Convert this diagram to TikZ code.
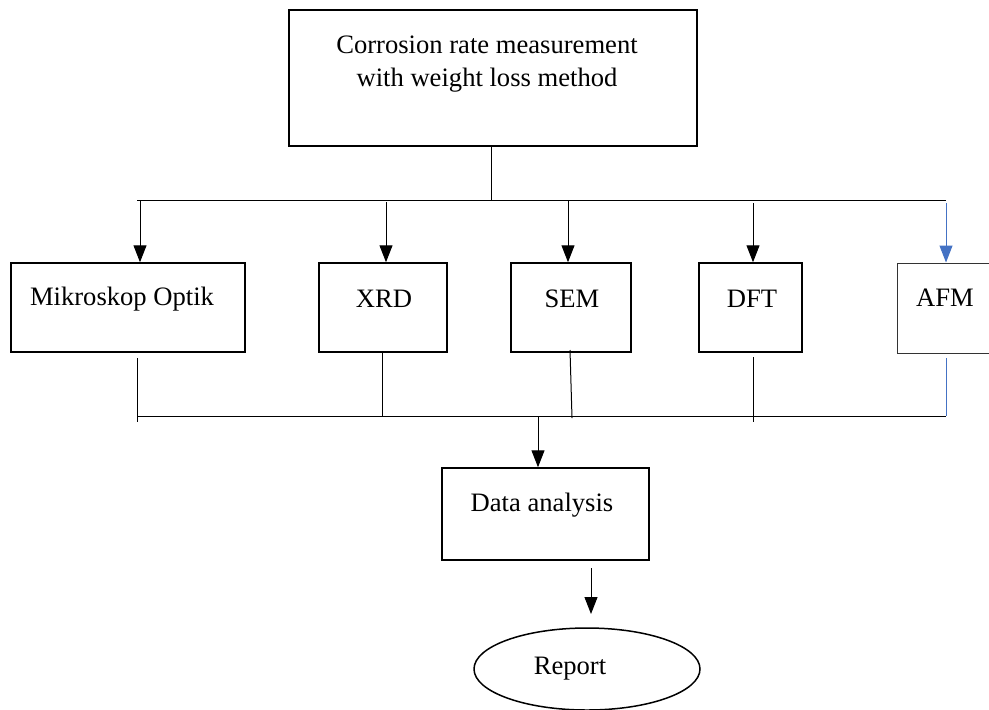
\documentclass[tikz,border=0pt]{standalone}
\usepackage{fontspec}
\setmainfont{Liberation Serif}
\usetikzlibrary{arrows.meta,shapes.geometric}
\definecolor{wordblue}{RGB}{68,114,196}
\begin{document}
\begin{tikzpicture}[x=0.5pt,y=-0.5pt,
  box/.style={draw,line width=0.75pt,minimum width=#1,inner sep=0pt},
  lbl/.style={font=\fontsize{13.3}{16.5}\selectfont,align=center,inner sep=0pt},
  ln/.style={line width=0.5pt},
  arr/.style={line width=0.5pt,-{Triangle[width=6.5pt,length=8.5pt]}}]
\useasboundingbox (0,0) rectangle (989,709);
% boxes
\node[box=204pt,minimum height=68pt] (top) at (493,78) {};
\node[box=117pt,minimum height=44.5pt] (mo) at (128,307.5) {};
\node[box=64pt,minimum height=44.5pt] (xrd) at (383,307.5) {};
\node[box=60pt,minimum height=44.5pt] (sem) at (571,307.5) {};
\node[box=51.5pt,minimum height=44.5pt] (dft) at (750.5,307.5) {};
\node[draw=black!80,line width=0.5pt,minimum width=46.5pt,minimum height=45pt,inner sep=0pt] (afm) at (943.5,308) {};
\node[box=103.5pt,minimum height=46pt] (data) at (545.5,514) {};
\node[draw,ellipse,line width=0.75pt,minimum width=113pt,minimum height=41pt,inner sep=0pt] (rep) at (587,669) {};
% labels
\node[lbl] (ttop) at (487,64) {Corrosion rate measurement\\ with weight loss method};
\node[lbl] (tmo) at (122,299) {Mikroskop Optik};
\node[lbl] (txrd) at (384,299) {XRD};
\node[lbl] (tsem) at (572,299) {SEM};
\node[lbl] (tdft) at (752,299) {DFT};
\node[lbl] (tafm) at (945,298) {AFM};
\node[lbl] (tdata) at (542,505) {Data analysis};
\node[lbl] (trep) at (570,669) {Report};
% coordinates
\coordinate (h1) at (491,200);
\coordinate (hl) at (137,200);
\coordinate (hr) at (946,200);
\coordinate (a1) at (140,201);
\coordinate (a2) at (386,202);
\coordinate (a3) at (568,200);
\coordinate (a4) at (753,203);
\coordinate (a5) at (946,203);
\coordinate (b1s) at (137,358);
\coordinate (b1e) at (137,422);
\coordinate (b2e) at (382,416);
\coordinate (b3s) at (570,350);
\coordinate (b3e) at (572,418);
\coordinate (b4s) at (753,357);
\coordinate (b4e) at (753,422);
\coordinate (b5s) at (946,358);
\coordinate (b5e) at (946,416);
\coordinate (bl) at (137,416);
\coordinate (br) at (946,416);
\coordinate (d1) at (538,416);
\coordinate (r1) at (591,568);
\coordinate (r2) at (591,614);
% connectors
\draw[ln] (top.south -| h1) -- (h1);
\draw[ln] (hl) -- (hr);
\draw[arr] (a1) -- (a1 |- mo.north);
\draw[arr] (a2) -- (a2 |- xrd.north);
\draw[arr] (a3) -- (a3 |- sem.north);
\draw[arr] (a4) -- (a4 |- dft.north);
\draw[arr,wordblue] (a5) -- (a5 |- afm.north);
\draw[ln] (b1s) -- (b1e);
\draw[ln] (b2e |- xrd.south) -- (b2e);
\draw[ln] (b3s) -- (b3e);
\draw[ln] (b4s) -- (b4e);
\draw[ln,wordblue] (b5s) -- (b5e);
\draw[ln] (bl) -- (br);
\draw[arr] (d1) -- (d1 |- data.north);
\draw[arr] (r1) -- (r2);
\end{tikzpicture}
\end{document}
